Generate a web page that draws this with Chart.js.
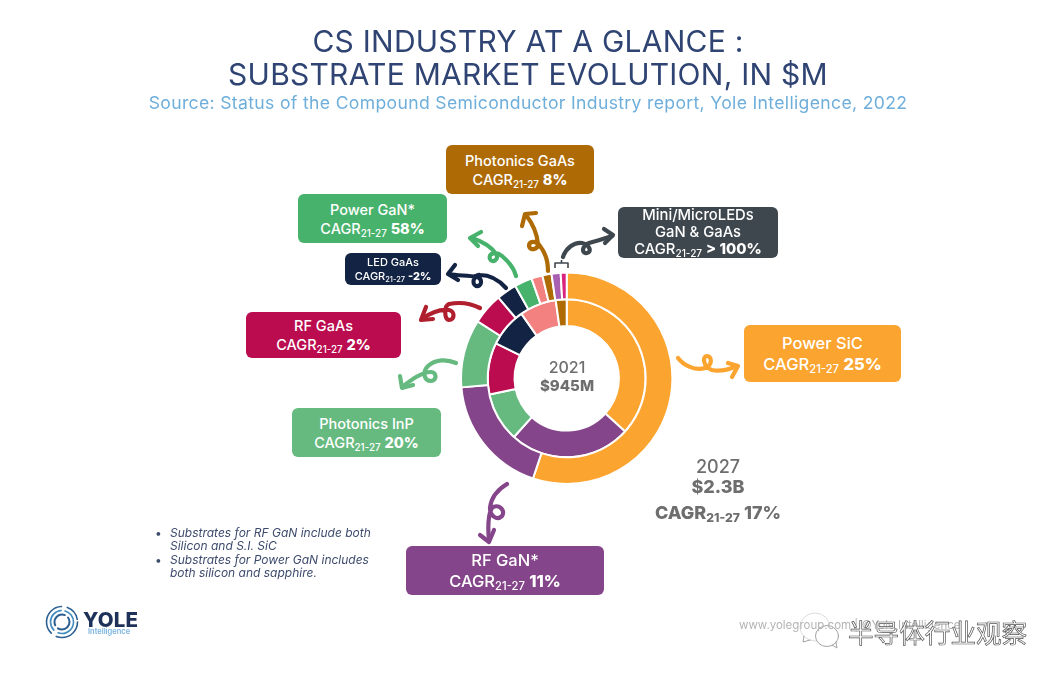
<!DOCTYPE html>
<html>
<head>
<meta charset="utf-8">
<title>CS industry at a glance</title>
<script src="https://cdn.jsdelivr.net/npm/chart.js@4"></script>
<style>
  html, body { margin: 0; padding: 0; background: #fff; }
  #page { position: relative; width: 1063px; height: 679px; overflow: hidden; font-family: Inter, "Open Sans", sans-serif; }
  #chart { position: absolute; left: 0; top: 0; }
  #arrows { position: absolute; left: 0; top: 0; }
  .t { position: absolute; white-space: nowrap; text-align: center; transform: translateX(-50%); }
  .title { left: 528px; font-size: 30px; line-height: 33px; color: #2f4473; letter-spacing: 0.25px; }
  .source { left: 528px; top: 92px; font-size: 17.6px; line-height: 22px; color: #6eaeda; letter-spacing: 0.33px; }
  .box { position: absolute; border-radius: 6px; color: #fff; display: flex; flex-direction: column; justify-content: center; align-items: center; white-space: nowrap; font-weight: 500; }
  .box b { font-weight: 800; }
  .box sub, .kpi sub { font-size: 0.68em; vertical-align: -0.28em; line-height: 0; }
  .gray { color: #6e6e6e; }
  .notes { position: absolute; left: 155px; top: 526px; font-size: 12px; line-height: 13.4px; font-style: italic; color: #3c4a6c; }
  .notes div { padding-left: 15px; position: relative; }
  .notes div span { position: absolute; left: 0; font-style: normal; }
  .yole { position: absolute; left: 83px; top: 607px; font-size: 20.5px; line-height: 26px; font-weight: 800; color: #1d3159; letter-spacing: 0.2px; }
  .intel { position: absolute; left: 88px; top: 627px; font-size: 7.5px; line-height: 10px; font-weight: 600; color: #79b3de; }
  .url { position: absolute; left: 739px; top: 618px; font-size: 11.5px; line-height: 14px; color: #b4b4b4; white-space: nowrap; }
  .wm { position: absolute; left: 848px; top: 616px; font-family: "Noto Sans CJK SC"; font-size: 25.6px; line-height: 32px; color: #fff; -webkit-text-stroke: 0.7px #555; white-space: nowrap; }
</style>
</head>
<body>
<div id="page">
  <canvas id="chart" width="1063" height="679"></canvas>
  <svg id="arrows" width="1063" height="679" fill="none" stroke-linecap="round" stroke-linejoin="round" stroke-width="4.2">
    <!-- Power SiC -->
    <g stroke="#fba430">
      <path d="M678 358 C684 366 696 371 705 368 C713 365 712 356 707 356 C702 356 703 367 712 370 C720 372 730 369 737 366"/>
      <path d="M728 363 L738 366 L732 377"/>
    </g>
    <!-- RF GaN -->
    <g stroke="#85458a">
      <path d="M507 484 C497 490 491 498 490 508 C490 516 497 521 502 516 C506 510 498 503 492 508 C487 516 488 530 489 541"/>
      <path d="M480 535 L489 542 L494 530"/>
    </g>
    <!-- Photonics InP -->
    <g stroke="#66ba80">
      <path d="M456 363 C447 359 436 359 428 366 C422 372 424 381 431 381 C437 381 437 372 431 372 C421 372 410 381 402 387"/>
      <path d="M400 376 L402 388 L413 385"/>
    </g>
    <!-- RF GaAs -->
    <g stroke="#b01f2e">
      <path d="M480 308 C470 303 459 302 449 304 C444 306 444 319 449 320 C455 320 455 311 449 310 C439 309 430 313 422 319"/>
      <path d="M426 307 L421 320 L433 319"/>
    </g>
    <!-- LED GaAs -->
    <g stroke="#132343">
      <path d="M506 288 C498 279 488 275 480 275 C474 274 471 284 476 286 C482 287 483 279 477 277 C467 275 458 276 449 274"/>
      <path d="M455 265 L448 274 L458 280"/>
    </g>
    <!-- Power GaN -->
    <g stroke="#47b26c">
      <path d="M516 276 C514 268 509 262 502 256 C496 251 488 253 490 259 C492 264 500 259 496 254 C491 246 481 241 472 238"/>
      <path d="M481 232 L470 238 L478 246"/>
    </g>
    <!-- Photonics GaAs -->
    <g stroke="#ae6a05">
      <path d="M548 271 C548 260 544 251 540 246 C536 240 529 241 529 246 C530 251 538 250 538 244 C537 234 533 224 526 215"/>
      <path d="M522 226 L525 214 L536 213"/>
    </g>
    <!-- Mini/MicroLEDs -->
    <g stroke="#3f474e">
      <path d="M563 257 C566 248 574 242 582 243 C590 245 592 252 587 253 C581 254 582 245 589 243 C597 241 606 238 612 236"/>
      <path d="M604 229 L613 235 L605 243"/>
      <path d="M555 268 L555 263 L568 263 L568 268 M561.5 263 L561.5 260" stroke-width="1.6" stroke-linecap="butt"/>
    </g>
    <!-- logo rings -->
    <g stroke="#2b5f92" stroke-width="1.6">
      <circle cx="62" cy="622" r="15.5" stroke-dasharray="30 6 36 6 16 4"/>
      <circle cx="62" cy="622" r="11.5" stroke="#3f8cc0" stroke-dasharray="22 5 26 4"/>
      <circle cx="62" cy="622" r="7.5" stroke-width="2" stroke-dasharray="16 4 18 4"/>
    </g>
    <!-- wechat bubbles -->
    <g stroke="#999" stroke-width="0.9">
      <ellipse cx="815" cy="627" rx="15" ry="14" stroke="#d8d8d8"/>
      <ellipse cx="827" cy="636" rx="11.5" ry="10.5" fill="#fff"/>
      <path d="M804 636 L803 642 L810 640 M832 645 L837 648 L836 642"/>
    </g>
  </svg>

  <div class="t title" style="top:25px">CS INDUSTRY AT A GLANCE :</div>
  <div class="t title" style="top:58px">SUBSTRATE MARKET EVOLUTION, IN $M</div>
  <div class="t source">Source: Status of the Compound Semiconductor Industry report, Yole Intelligence, 2022</div>

  <div class="box" style="left:446px;top:145px;width:148px;height:49px;background:#ae6a05;font-size:14.5px;line-height:19px">
    <div>Photonics GaAs</div><div>CAGR<sub>21-27</sub> <b>8%</b></div></div>
  <div class="box" style="left:298px;top:194px;width:149px;height:49px;background:#47b26c;font-size:14.5px;line-height:19px">
    <div>Power GaN*</div><div>CAGR<sub>21-27</sub> <b>58%</b></div></div>
  <div class="box" style="left:345px;top:253px;width:96px;height:32px;background:#132343;font-size:11px;line-height:14px">
    <div>LED GaAs</div><div>CAGR<sub>21-27</sub> <b>-2%</b></div></div>
  <div class="box" style="left:246px;top:312px;width:155px;height:46px;background:#ba0c4f;font-size:14.5px;line-height:19px">
    <div>RF GaAs</div><div>CAGR<sub>21-27</sub> <b>2%</b></div></div>
  <div class="box" style="left:618px;top:207px;width:160px;height:51px;background:#3f474e;font-size:14.8px;line-height:17px">
    <div>Mini/MicroLEDs</div><div>GaN &amp; GaAs</div><div>CAGR<sub>21-27</sub> <b>&gt; 100%</b></div></div>
  <div class="box" style="left:744px;top:325px;width:157px;height:57px;background:#fba430;font-size:16.5px;line-height:21px">
    <div>Power SiC</div><div>CAGR<sub>21-27</sub> <b>25%</b></div></div>
  <div class="box" style="left:292px;top:408px;width:149px;height:49px;background:#66ba80;font-size:14.5px;line-height:19px">
    <div>Photonics InP</div><div>CAGR<sub>21-27</sub> <b>20%</b></div></div>
  <div class="box" style="left:406px;top:546px;width:198px;height:49px;background:#85458a;font-size:16.5px;line-height:21px">
    <div>RF GaN*</div><div>CAGR<sub>21-27</sub> <b>11%</b></div></div>

  <div class="t gray" style="left:567px;top:358px;font-size:16px;line-height:18px;font-weight:500">2021</div>
  <div class="t gray" style="left:567px;top:376px;font-size:15px;line-height:19px;font-weight:800">$945M</div>
  <div class="t gray" style="left:718px;top:456px;font-size:18px;line-height:21px;font-weight:500">2027</div>
  <div class="t gray" style="left:718px;top:476px;font-size:18px;line-height:21px;font-weight:800">$2.3B</div>
  <div class="t gray kpi" style="left:718px;top:502px;font-size:18px;line-height:21px;font-weight:800">CAGR<sub>21-27</sub> 17%</div>

  <div class="notes">
    <div><span>•</span>Substrates for RF GaN include both<br>Silicon and S.I. SiC</div>
    <div><span>•</span>Substrates for Power GaN includes<br>both silicon and sapphire.</div>
  </div>
  <div class="yole">YOLE</div>
  <div class="intel">Intelligence</div>
  <div class="url">www.yolegroup.com | ©Yole Intelligence</div>
  <div class="wm">半导体行业观察</div>
</div>

<script>
// 基板市場の内訳 ($M)、外側が2027、内側が2021
const categories = ["Power SiC", "RF GaN", "Photonics InP", "RF GaAs", "LED GaAs", "Power GaN", "Other", "Photonics GaAs", "Mini/MicroLEDs GaN", "Mini/MicroLEDs GaAs"];
const values2027 = [1270, 425, 240, 110, 71, 62, 39, 32, 32, 21];
const values2021 = [347, 235, 95, 100, 75, 0, 71, 21, 0, 0];
const colors = ["#fba430", "#85458a", "#66ba80", "#ba0c4f", "#132343", "#47b26c", "#f2817f", "#ae6a05", "#a960b0", "#d8227e"];

document.addEventListener("DOMContentLoaded", () => {
    const ctx = document.getElementById("chart").getContext("2d");
    new Chart(ctx, {
        type: "doughnut",
        data: {
            labels: categories,
            datasets: [
                { label: "2027", data: values2027, backgroundColor: colors, borderColor: "#fff", borderWidth: 2 },
                { label: "2021", data: values2021, backgroundColor: colors, borderColor: "#fff", borderWidth: 2 },
            ],
        },
        options: {
            responsive: false,
            animation: false,
            cutout: "49.4%",
            layout: { padding: { left: 460, right: 389.6, top: 271.6, bottom: 194 } },
            plugins: { legend: { display: false }, tooltip: { enabled: false }, title: { display: false } },
        },
    });
});
</script>
</body>
</html>
